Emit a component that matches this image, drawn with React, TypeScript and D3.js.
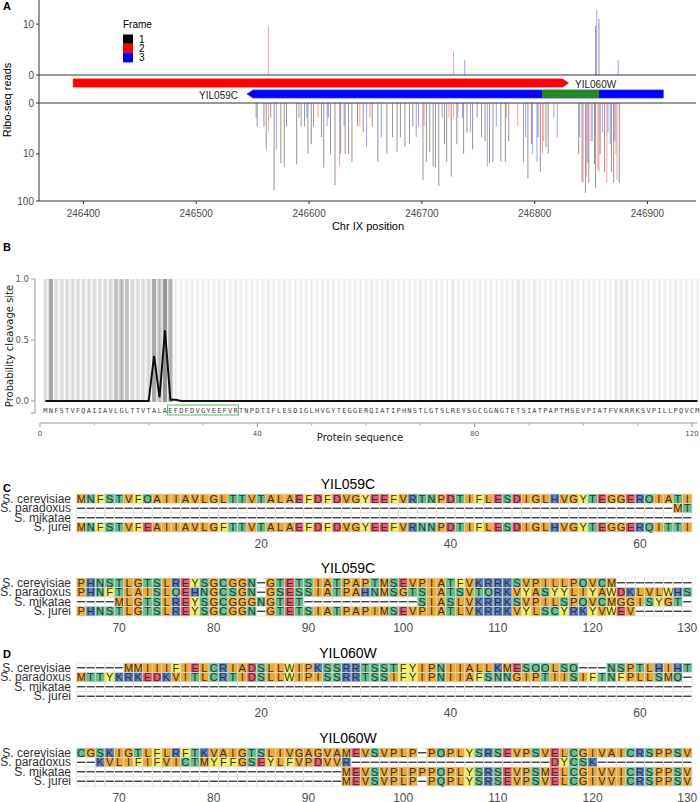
import React from 'react';
import * as d3 from 'd3';

// ---------- Panel A data ----------
const topPos = [246564, 246728, 246738, 246854, 246855, 246857, 246874];
const topReads = [9, 2, 1, 9, 20, 13, 1];
const topFrame = [2, 2, 3, 1, 3, 1, 3];

const botPos = [246553,246554,246560,246562,246564,246566,246569,246571,246575,246578,246580,246589,246591,246593,246596,246598,246599,246602,246604,246608,246611,246613,246616,246617,246619,246623,246627,246628,246631,246632,246635,246638,246643,246645,246648,246651,246654,246656,246661,246664,246669,246674,246678,246681,246685,246689,246692,246695,246697,246701,246702,246704,246707,246710,246712,246715,246718,246720,246722,246724,246726,246728,246731,246732,246736,246737,246740,246743,246745,246749,246753,246756,246758,246760,246763,246766,246770,246774,246775,246777,246785,246790,246792,246794,246797,246798,246802,246803,246805,246807,246808,246810,246812,246817,246820,246839,246840,246842,246843,246845,246846,246847,246848,246850,246851,246853,246854,246856,246857,246858,246860,246862,246864,246865,246867,246868,246870,246871,246872,246873,246875];
const botReads = [1,2,2,8,3,1,59,8,16,19,2,17,1,2,2,1,10,6,2,1,4,20,2,1,10,47,19,10,2,10,10,15,2,2,3,7,1,2,15,4,10,4,9,4,7,6,2,4,2,37,2,15,9,19,20,49,1,6,15,1,31,1,6,1,1,10,3,3,8,1,4,5,19,16,15,2,15,15,1,5,2,15,4,34,6,10,15,4,25,10,5,7,10,1,4,10,4,40,42,68,31,16,42,5,5,17,54,22,25,10,3,25,42,3,6,25,42,5,10,37,42];
const botFrame = [3,1,1,1,2,1,1,3,1,1,1,1,3,1,1,3,1,1,1,2,1,1,3,1,1,1,2,1,3,1,1,1,1,2,1,3,2,1,1,3,1,1,1,1,1,1,1,3,3,1,2,1,1,1,1,1,3,1,1,2,1,2,1,2,3,1,1,3,1,1,1,1,3,1,1,3,1,1,2,1,2,1,3,1,1,3,3,1,1,2,2,1,1,3,3,1,3,1,2,1,2,3,1,2,3,1,1,2,2,1,3,1,2,3,3,1,1,3,2,2,1];

const geneNames = ['YIL060W', 'YIL059C'];
const geneStart = [246391, 246545];
const geneEnd = [246830, 246914];
const geneStrand = ['+', '-'];
const overlapStart = 246806.5;
const overlapEnd = 246857;

const yTicksTop = [0, 10];
const yTicksBot = [0, 10, 100];
const xTicksA = [246400, 246500, 246600, 246700, 246800, 246900];
const frameLabels = ['1', '2', '3'];

// ---------- Panel B data ----------
const proteinSeq = 'MNFSTVFQAIIAVLGLTTVTALAEFDFDVGYEEFVRTNPDTIFLESDIGLHVGYTEGGERQIATIPHNSTLGTSLREYSGCGGNGTETSIATPAPTMSEVPIATFVKRRKSVPILLPQVCM';
const cleaveProb = [0,0,0,0,0,0,0,0,0,0,0,0,0,0,0,0,0,0,0,0,0.37,0.03,0.58,0.01,0.01,0,0,0,0,0,0,0,0,0,0,0,0,0,0,0,0,0,0,0,0,0,0,0,0,0,0,0,0,0,0,0,0,0,0,0,0,0,0,0,0,0,0,0,0,0,0,0,0,0,0,0,0,0,0,0,0,0,0,0,0,0,0,0,0,0,0,0,0,0,0,0,0,0,0,0,0,0,0,0,0,0,0,0,0,0,0,0,0,0,0,0,0,0,0,0,0];
const shade = [0.10,0.32,0.10,0.10,0.10,0.10,0.10,0.10,0.10,0.10,0.10,0.10,0.12,0.22,0.24,0.22,0.12,0.10,0.10,0.12,0.32,0.22,0.40,0.28,0.03,0.03,0.03,0.03,0.03,0.03,0.03,0.03,0.03,0.03,0.03,0.03,0.03,0.03,0.03,0.03,0.03,0.03,0.03,0.03,0.03,0.03,0.03,0.03,0.03,0.03,0.03,0.03,0.03,0.03,0.03,0.03,0.03,0.03,0.03,0.03,0.03,0.03,0.03,0.03,0.03,0.03,0.03,0.03,0.03,0.03,0.03,0.03,0.03,0.03,0.03,0.06,0.03,0.03,0.03,0.03,0.03,0.03,0.03,0.03,0.03,0.03,0.03,0.06,0.03,0.03,0.06,0.03,0.03,0.03,0.03,0.03,0.03,0.03,0.03,0.03,0.03,0.03,0.03,0.03,0.03,0.06,0.06,0.06,0.03,0.03,0.03,0.03,0.03,0.03,0.03,0.03,0.03,0.03,0.03,0.03,0.03];
const signalStart = 24;
const signalEnd = 36;
const xTicksB = [0, 40, 80, 120];
const xMinorB = [10, 20, 30, 50, 60, 70, 90, 100, 110];
const yTicksB = [0, 0.5, 1];

// ---------- Panels C/D data ----------
const speciesNames = ['S. cerevisiae', 'S. paradoxus', 'S. mikatae', 'S. jurei'];
const aln059a = [
  'MNFSTVFQAIIAVLGLTTVTALAEFDFDVGYEEFVRTNPDTIFLESDIGLHVGYTEGGERQIATI',
  '---------------------------------------------------------------MT',
  '-----------------------------------------------------------------',
  'MNFSTVFEAIIAVLGFTTVTALAEFDFDVGYEEFVRNNPDTIFLESDIGLHVGYTEGGERQITTI',
];
const aln059b = [
  'PHNSTLGTSLREYSGCGGN-GTETSIATPAPTMSEVPIATFVKRRKSVPILLPQVCM--------',
  'PHNFTLAISLQEHNGCSGN-GSESSIATPAHNMSGTSIATSVTQRKVYASYYLIYAWDKLVLWHS',
  '----MLGTSLREYSGCGGGNGTET------------SIASLVKRRKSVPILSPQVCMGGISYGT-',
  'PHNSTLGTSLREYSGCGGN-GTETSIATPAPIMSEVPIATLVKRRKVYLSCYRKYVWEV------',
];
const aln060a = [
  '-----MMIIIFIELCRIADSLLWIPKSSRRTSSTFYIPNIIALLKMESQQLSQ---NSPTLHIHT',
  'MTTYKRKEDKVITLCRTIDSLLWIPISSRRTSSIFYIPNIIAFSNNGIPTIISIFTNFPLLSMQ-',
  '-----------------------------------------------------------------',
  '-----------------------------------------------------------------',
];
const aln060b = [
  'CGSKIGTLFLRFTKVAIGTSLIVGAGVAMEVSVPLP-PQPLYSRSEVPSVELCGIVAICRSPPSV',
  '--KVLIFIFVICTMYFFGSEYLFVPDVVR---------------------DYCSK----------',
  '----------------------------MEVSVPLPPPQPLYSRSEVPSMELCGIVVICRSPPSV',
  '----------------------------MEVSVPLP-PQPLYSRSEVPSVELCGIVVICRSPPSV',
];
const blockTitles = ['YIL059C', 'YIL059C', 'YIL060W', 'YIL060W'];
const blockOffsets = [0, 65, 0, 65];
const blockTicks = [[20, 40, 60], [70, 80, 90, 100, 110, 120, 130], [20, 40, 60], [70, 80, 90, 100, 110, 120, 130]];

const frameColor: Record<number, string> = { 1: 'rgba(0,0,0,0.42)', 2: 'rgba(255,0,0,0.38)', 3: 'rgba(0,0,255,0.38)' };
const legendColor = ['#000000', '#ff0000', '#0000ff'];

function aaColor(c: string) {
  if ('AILMVGP'.includes(c)) return '#EEAA33';
  if ('STNQC'.includes(c)) return '#63C08C';
  if ('DE'.includes(c)) return '#EB5A66';
  if ('KRH'.includes(c)) return '#5F84C6';
  if ('FYW'.includes(c)) return '#F4EE5C';
  return '#ffffff';
}

const sansA = 'Liberation Sans, Arial, sans-serif';
const sansB = 'DejaVu Sans, Verdana, sans-serif';

function PanelA() {
  const xA = d3.scaleLinear().domain([246360.6, 246943]).range([39, 696]);
  const yTop = d3.scaleSymlog().constant(1).domain([0, 100]).range([75, -23]);
  const yBot = d3.scaleSymlog().constant(1).domain([0, 100]).range([103, 201]);

  const arrow = (i: number, yc: number, h: number, fill: string, stroke: string) => {
    const x0 = xA(geneStart[i]);
    const x1 = xA(geneEnd[i]);
    const head = 6;
    const p = d3.path();
    if (geneStrand[i] === '+') {
      p.moveTo(x0, yc - h / 2);
      p.lineTo(x1 - head, yc - h / 2);
      p.lineTo(x1, yc);
      p.lineTo(x1 - head, yc + h / 2);
      p.lineTo(x0, yc + h / 2);
    } else {
      p.moveTo(x1, yc - h / 2);
      p.lineTo(x0 + head, yc - h / 2);
      p.lineTo(x0, yc);
      p.lineTo(x0 + head, yc + h / 2);
      p.lineTo(x1, yc + h / 2);
    }
    p.closePath();
    return <path d={p.toString()} fill={fill} stroke={stroke} strokeWidth={0.8} />;
  };

  return (
    <g>
      <text x={3} y={10} fontFamily={sansA} fontWeight="bold" fontSize={11}>A</text>
      {/* bars */}
      {topPos.map((p, i) => (
        <line key={'t' + i} x1={xA(p)} x2={xA(p)} y1={yTop(0)} y2={yTop(topReads[i])} stroke={frameColor[topFrame[i]]} strokeWidth={1} />
      ))}
      {botPos.map((p, i) => (
        <line key={'b' + i} x1={xA(p)} x2={xA(p)} y1={yBot(0)} y2={yBot(botReads[i])} stroke={frameColor[botFrame[i]]} strokeWidth={1} />
      ))}
      {/* frame lines */}
      <line x1={39} x2={696} y1={75} y2={75} stroke="#333" strokeWidth={1} />
      <line x1={39} x2={696} y1={103} y2={103} stroke="#333" strokeWidth={1} />
      <line x1={39} x2={696} y1={201} y2={201} stroke="#333" strokeWidth={1} />
      <line x1={39} x2={39} y1={0} y2={201} stroke="#333" strokeWidth={1} />
      {/* genes */}
      {arrow(0, 83, 8, '#ff0000', '#ff0000')}
      {arrow(1, 94, 8, '#0000ff', '#3030ff')}
      <rect x={xA(overlapStart)} y={90} width={xA(overlapEnd) - xA(overlapStart)} height={8} fill="#228b22" />
      <text x={575} y={87.5} fontFamily={sansA} fontSize={10} fill="#222">{geneNames[0]}</text>
      <text x={238} y={98.5} fontFamily={sansA} fontSize={10} fill="#222" textAnchor="end">{geneNames[1]}</text>
      {/* y ticks */}
      {yTicksTop.map((t) => (
        <g key={'yt' + t}>
          <line x1={36} x2={39} y1={yTop(t)} y2={yTop(t)} stroke="#333" />
          <text x={34} y={yTop(t) + 3.5} textAnchor="end" fontFamily={sansA} fontSize={10} fill="#4d4d4d">{t}</text>
        </g>
      ))}
      {yTicksBot.map((t) => (
        <g key={'yb' + t}>
          <line x1={36} x2={39} y1={yBot(t)} y2={yBot(t)} stroke="#333" />
          <text x={34} y={yBot(t) + 3.5} textAnchor="end" fontFamily={sansA} fontSize={10} fill="#4d4d4d">{t}</text>
        </g>
      ))}
      {xTicksA.map((t) => (
        <g key={'xa' + t}>
          <line x1={xA(t)} x2={xA(t)} y1={201} y2={204} stroke="#333" />
          <text x={xA(t)} y={216.5} textAnchor="middle" fontFamily={sansA} fontSize={10} fill="#4d4d4d">{t}</text>
        </g>
      ))}
      <text x={368} y={230} textAnchor="middle" fontFamily={sansA} fontSize={11}>Chr IX position</text>
      <text transform="translate(11,100) rotate(-90)" textAnchor="middle" fontFamily={sansA} fontSize={11}>Ribo-seq reads</text>
      {/* legend */}
      <text x={123} y={28} fontFamily={sansA} fontSize={10}>Frame</text>
      {frameLabels.map((l, i) => (
        <g key={'lg' + i}>
          <rect x={123} y={34.5 + i * 9.3} width={10} height={9.3} fill={legendColor[i]} />
          <text x={139} y={42.5 + i * 9.3} fontFamily={sansA} fontSize={10}>{l}</text>
        </g>
      ))}
    </g>
  );
}

function PanelB() {
  const xB = d3.scaleLinear().domain([0, 120]).range([40, 692]);
  const yB = d3.scaleLinear().domain([0, 1]).range([401, 279]);
  const step = xB(1) - xB(0);
  const residues = proteinSeq.split('');
  const line = d3.line<number>().x((_, i) => xB(i + 1)).y((d) => yB(d));
  return (
    <g>
      <text x={3} y={251} fontFamily={sansA} fontWeight="bold" fontSize={11}>B</text>
      {residues.map((_, i) => (
        <g key={'sh' + i}>
          <rect x={xB(i + 0.5) + 0.5} y={279} width={step - 1} height={123} fill="#000" fillOpacity={shade[i]} />
          <line x1={xB(i + 1)} x2={xB(i + 1)} y1={279} y2={402} stroke="#000" strokeOpacity={0.07} strokeWidth={1} />
        </g>
      ))}
      <path d={line(cleaveProb) || ''} fill="none" stroke="#111" strokeWidth={2} strokeLinejoin="miter" />
      {residues.map((c, i) => (
        <text key={'aa' + i} x={xB(i + 1)} y={412.5} textAnchor="middle" fontFamily="DejaVu Sans Mono, monospace" fontSize={7} fill="#444">{c}</text>
      ))}
      <rect x={xB(signalStart - 0.5)} y={405} width={xB(signalEnd + 0.5) - xB(signalStart - 0.5)} height={10} fill="none" stroke="#3aa34a" strokeWidth={0.8} />
      {/* y axis */}
      <line x1={35} x2={35} y1={yB(1)} y2={yB(-0.1)} stroke="#999" strokeWidth={1} />
      {yTicksB.map((t) => (
        <g key={'ybt' + t}>
          <line x1={31} x2={35} y1={yB(t)} y2={yB(t)} stroke="#999" />
          <text x={29} y={yB(t) + 3} textAnchor="end" fontFamily={sansB} fontSize={8.5} fill="#555">{t.toFixed(1)}</text>
        </g>
      ))}
      <line x1={31} x2={35} y1={yB(-0.1)} y2={yB(-0.1)} stroke="#999" />
      {/* x axis */}
      <line x1={xB(0)} x2={xB(121)} y1={423} y2={423} stroke="#999" strokeWidth={1} />
      {xTicksB.map((t) => (
        <g key={'xbt' + t}>
          <line x1={xB(t)} x2={xB(t)} y1={423} y2={427} stroke="#999" />
          <text x={xB(t)} y={436} textAnchor="middle" fontFamily={sansB} fontSize={7} fill="#555">{t}</text>
        </g>
      ))}
      {xMinorB.map((t) => (
        <line key={'xm' + t} x1={xB(t)} x2={xB(t)} y1={423} y2={425.5} stroke="#aaa" />
      ))}
      <text x={360} y={441} textAnchor="middle" fontFamily={sansB} fontSize={10} fill="#222">Protein sequence</text>
      <text transform="translate(13,346) rotate(-90)" textAnchor="middle" fontFamily={sansB} fontSize={10} fill="#222">Probability cleavage site</text>
    </g>
  );
}

function Block({ seqs, offset, ticks, title, top }: { seqs: string[]; offset: number; ticks: number[]; title: string; top: number }) {
  const x = d3.scaleLinear().domain([0.5, 65.5]).range([76.5, 692]);
  const cw = x(1.5) - x(0.5);
  const rh = 9.5;
  return (
    <g>
      <text x={348} y={top - 5} textAnchor="middle" fontFamily={sansA} fontSize={14} fill="#000">{title}</text>
      {seqs.map((s, r) => {
        const row = (s + '-'.repeat(65)).slice(0, 65).split('');
        const y0 = top + r * rh;
        return (
          <g key={'r' + r}>
            <text x={71} y={y0 + rh / 2 + 4} textAnchor="end" fontFamily={sansA} fontSize={12} fill="#333">{speciesNames[r]}</text>
            {row.map((c, j) => {
              const cx = x(j + 1);
              const gap = c === '-';
              return (
                <g key={j}>
                  <rect x={cx - cw / 2} y={y0} width={cw} height={rh} fill={gap ? '#fff' : aaColor(c)} stroke="#dcdcdc" strokeWidth={0.6} />
                  {gap ? (
                    <line x1={cx - cw / 2 + 0.6} x2={cx + cw / 2 - 0.6} y1={y0 + rh / 2} y2={y0 + rh / 2} stroke="#333" strokeWidth={1.3} />
                  ) : (
                    <text x={cx} y={y0 + rh / 2 + 4} textAnchor="middle" fontFamily={sansA} fontSize={11} fill="#333">{c}</text>
                  )}
                </g>
              );
            })}
          </g>
        );
      })}
      {ticks.map((t) => (
        <text key={'tk' + t} x={x(t - offset)} y={top + 4 * rh + 16} textAnchor="middle" fontFamily={sansA} fontSize={12} fill="#4d4d4d">{t}</text>
      ))}
    </g>
  );
}

export default function App() {
  const blockData = [aln059a, aln059b, aln060a, aln060b];
  const tops = [494, 578, 663, 748];
  return (
    <svg width={700} height={802} style={{ position: 'absolute', left: 0, top: 0, background: '#fff' }} xmlns="http://www.w3.org/2000/svg">
      <rect x={0} y={0} width={700} height={802} fill="#fff" />
      <PanelA />
      <PanelB />
      <text x={3} y={492} fontFamily={sansA} fontWeight="bold" fontSize={11}>C</text>
      <text x={3} y={658} fontFamily={sansA} fontWeight="bold" fontSize={11}>D</text>
      {blockData.map((b, i) => (
        <Block key={i} seqs={b} offset={blockOffsets[i]} ticks={blockTicks[i]} title={blockTitles[i]} top={tops[i]} />
      ))}
    </svg>
  );
}
